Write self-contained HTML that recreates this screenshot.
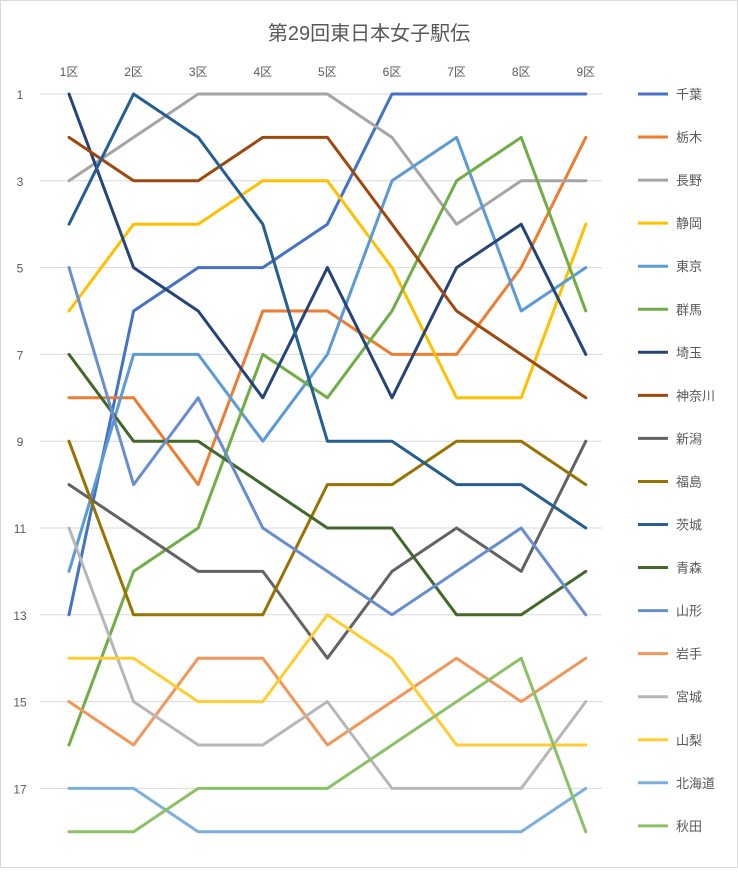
<!DOCTYPE html>
<html><head><meta charset="utf-8"><style>
body{margin:0;background:#fff;}
svg text{font-family:"Liberation Sans","Noto Sans CJK JP",sans-serif;}
</style></head><body>
<svg id="c" width="738" height="868" xmlns="http://www.w3.org/2000/svg">
<rect x="0.5" y="0.5" width="737" height="867" fill="#fff" stroke="#d9d9d9"/>
<text x="369" y="40" text-anchor="middle" font-size="20" fill="#595959">第29回東日本女子駅伝</text>
<g id="grid"></g><g id="xt"></g><g id="yt"></g><g id="series"></g><g id="legend"></g>
</svg>
<script>
const stages=["1区","2区","3区","4区","5区","6区","7区","8区","9区"];
const yTicks=[1,3,5,7,9,11,13,15,17];
const names=["千葉","栃木","長野","静岡","東京","群馬","埼玉","神奈川","新潟","福島","茨城","青森","山形","岩手","宮城","山梨","北海道","秋田"];
const colors=["#4472C4","#ED7D31","#A5A5A5","#FFC000","#5B9BD5","#70AD47","#264478","#9E480E","#636363","#997300","#255E91","#43682B","#698ED0","#F1975A","#B7B7B7","#FFCD33","#7CAFDD","#8CC168"];
const ranks=[
[13,6,5,5,4,1,1,1,1],
[8,8,10,6,6,7,7,5,2],
[3,2,1,1,1,2,4,3,3],
[6,4,4,3,3,5,8,8,4],
[12,7,7,9,7,3,2,6,5],
[16,12,11,7,8,6,3,2,6],
[1,5,6,8,5,8,5,4,7],
[2,3,3,2,2,4,6,7,8],
[10,11,12,12,14,12,11,12,9],
[9,13,13,13,10,10,9,9,10],
[4,1,2,4,9,9,10,10,11],
[7,9,9,10,11,11,13,13,12],
[5,10,8,11,12,13,12,11,13],
[15,16,14,14,16,15,14,15,14],
[11,15,16,16,15,17,17,17,15],
[14,14,15,15,13,14,16,16,16],
[17,17,18,18,18,18,18,18,17],
[18,18,17,17,17,16,15,14,18]];
const NS="http://www.w3.org/2000/svg";
const x=i=>69+i*64.6;
const y=r=>94+(r-1)*43.4;
function mk(t,a,p){const e=document.createElementNS(NS,t);for(const k in a)e.setAttribute(k,a[k]);p.appendChild(e);return e;}
const g=document.getElementById('grid'),xt=document.getElementById('xt'),yt=document.getElementById('yt'),sg=document.getElementById('series'),lg=document.getElementById('legend');
yTicks.forEach(t=>{
 const l=mk('line',{x1:40,x2:602,y1:y(t),y2:y(t),stroke:"#d9d9d9","stroke-width":1},g);
 
 
 const tx=mk('text',{x:20,y:y(t)+5,"text-anchor":"middle","font-size":12,fill:"#595959"},yt);
 tx.textContent=t;
 
 
});
stages.forEach((s,i)=>{
 const tx=mk('text',{x:x(i),y:76,"text-anchor":"middle","font-size":12,fill:"#595959"},xt);
 tx.textContent=s;
 
 
});
ranks.forEach((r,k)=>{
 const p=mk('polyline',{points:r.map((v,i)=>x(i)+","+y(v)).join(" "),fill:"none",stroke:colors[k],"stroke-width":3,"stroke-linejoin":"round","stroke-linecap":"round"},sg);
 
 
 const ly=94+k*43.05;
 const ln=mk('line',{x1:638,x2:668,y1:ly,y2:ly,stroke:colors[k],"stroke-width":3},lg);
 
 
 const t=mk('text',{x:676,y:ly+5,"font-size":13,fill:"#595959"},lg);
 t.textContent=names[k];
 
 
});
</script>
</body></html>
